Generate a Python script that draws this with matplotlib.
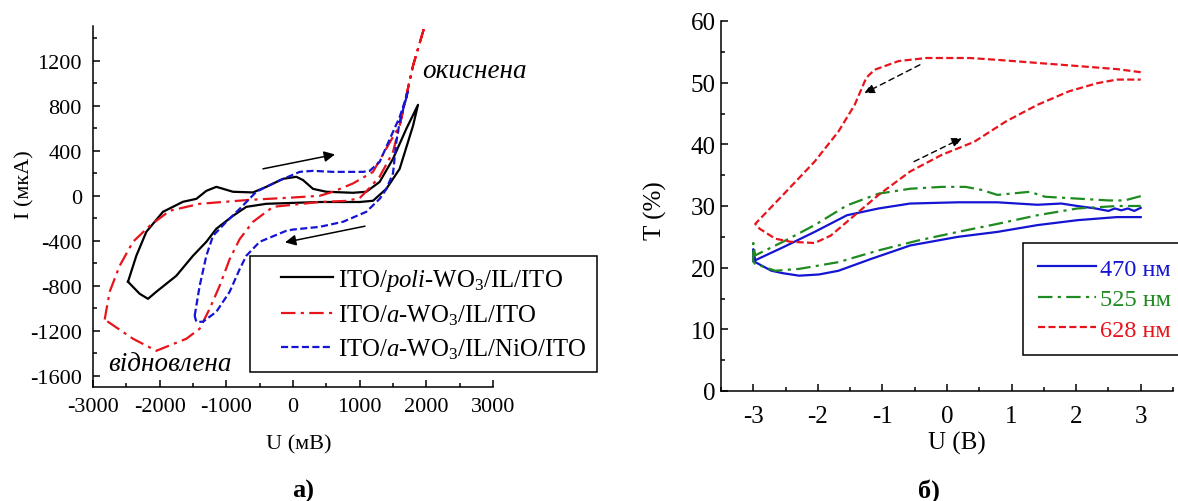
import numpy as np
import matplotlib
matplotlib.use("Agg")
import matplotlib.pyplot as plt
from matplotlib.ticker import MultipleLocator
from matplotlib.legend_handler import HandlerLine2D

plt.rcParams['font.family'] = ['Liberation Serif', 'DejaVu Serif']
plt.rcParams['mathtext.fontset'] = 'custom'
plt.rcParams['mathtext.rm'] = 'Liberation Serif'
plt.rcParams['mathtext.it'] = 'Liberation Serif:italic'
plt.rcParams['mathtext.bf'] = 'Liberation Serif:bold'
plt.rcParams['axes.unicode_minus'] = False

# ---- panel a): cyclic voltammograms, U (mV) vs I (uA)
poli_u = [-2475, -2350, -2200, -1950, -1650, -1450, -1300, -1150, -900, -600, -400, -150,
          50, 150, 300, 500, 900, 1100, 1300, 1500, 1700, 1875,
          1800, 1600, 1400, 1200, 1000, 400, -400, -700, -900, -1150, -1300, -1500,
          -1750, -2050, -2175, -2300, -2475]
poli_i = [-764, -533, -320, -142, -53, -27, 44, 80, 36, 30, 80, 151,
          169, 140, 62, 36, 27, 36, 124, 329, 596, 809,
          622, 240, 62, -44, -55, -55, -71, -98, -178, -293, -409, -533,
          -711, -853, -916, -871, -764]

a_u = [-2825, -2750, -2600, -2400, -2150, -1850, -1400, -650, 0, 400, 600, 900, 1200,
       1500, 1600, 1700, 1800, 1990,
       1800, 1700, 1600, 1500, 1300, 1100, 1000, 800, 400, -300, -600, -800, -950,
       -1100, -1250, -1400, -1600, -2050, -2400, -2825]
a_i = [-1100, -853, -622, -409, -267, -133, -71, -36, -15, 0, 36, 110, 213,
       524, 625, 890, 1156, 1540,
       1156, 890, 625, 390, 170, 40, -20, -45, -55, -98, -231, -385, -563,
       -800, -1004, -1182, -1271, -1378, -1271, -1100]

nio_u = [-1475, -1400, -1300, -1200, -1000, -800, -550, -250, 100, 300, 600, 1050,
         1150, 1300, 1500, 1600, 1725,
         1600, 1550, 1500, 1400, 1300, 1100, 750, 400, 0, -100, -500, -700, -800,
         -950, -1150, -1350, -1450, -1475]
nio_i = [-1067, -800, -533, -356, -231, -116, 36, 124, 213, 222, 213, 213,
         222, 302, 569, 700, 924,
         658, 480, 200, 60, -27, -142, -231, -276, -300, -311, -409, -533, -652,
         -853, -1031, -1120, -1120, -1067]

arrows_a = [((-450, 240), (630, 368)), ((1080, -270), (-120, -414))]

# ---- panel б): transmittance vs U (V)
u470 = [3.0, 2.9, 2.8, 2.7, 2.6, 2.5, 2.3, 2.02, 1.77, 1.4, 0.78, 0.17, -0.57, -1.06,
        -1.55, -2.05, -2.54, -2.97, -3.0, -3.0,
        -2.97, -2.72, -2.54, -2.29, -1.98, -1.68, -1.18, -0.57, 0.17, 0.78, 1.4,
        2.02, 2.63, 3.0]
t470 = [29.7, 29.2, 29.6, 29.3, 29.6, 29.2, 29.6, 30.0, 30.4, 30.2, 30.6, 30.6, 30.4, 29.6,
        28.5, 25.8, 23.3, 21.2, 23.0, 21.0,
        20.9, 19.5, 19.1, 18.7, 18.9, 19.5, 21.4, 23.6, 25.0, 25.8, 26.9,
        27.7, 28.2, 28.2]

u525 = [3.0, 2.75, 2.5, 2.02, 1.52, 1.28, 0.78, 0.54, 0.29, -0.08, -0.57, -1.06,
        -1.55, -2.05, -2.54, -2.97, -3.0, -3.0,
        -2.97, -2.66, -2.29, -1.68, -1.06, -0.45, 0.17, 0.78, 1.4, 2.02, 2.63, 3.0]
t525 = [31.6, 30.9, 30.9, 31.2, 31.5, 32.3, 31.8, 32.6, 33.1, 33.1, 32.8, 32.0,
        30.1, 26.9, 24.2, 22.0, 24.0, 21.0,
        20.6, 19.5, 19.8, 20.9, 22.8, 24.4, 25.8, 27.1, 28.5, 29.6, 30.0, 30.0]

u628 = [3.0, 2.63, 2.02, 1.4, 0.78, 0.35, -0.32, -0.75, -1.12, -1.25, -1.43, -1.68,
        -2.05, -2.54, -2.97,
        -2.9, -2.66, -2.42, -2.05, -1.8, -1.43, -1.06, -0.57, -0.08, 0.42, 0.91,
        1.4, 1.89, 2.32, 2.63, 3.0]
t628 = [51.7, 52.2, 52.7, 53.2, 53.7, 54.0, 54.0, 53.5, 52.1, 50.8, 46.4, 42.1,
        37.2, 31.8, 27.1,
        26.3, 24.7, 24.2, 24.0, 25.2, 28.5, 31.8, 35.6, 38.3, 40.4, 43.7,
        46.4, 48.6, 49.9, 50.5, 50.5]

arrows_b = [((-0.42, 52.9), (-1.28, 48.3)), ((-0.51, 37.2), (0.23, 41.0))]

RED = '#e8141c'
BLUE = '#1414d2'
GREEN = '#1f8a1f'


# legend line that starts a bit to the right inside its handle box
class ShiftedLine(HandlerLine2D):
    def __init__(self, shift, **kw):
        super().__init__(**kw)
        self.shift = shift

    def create_artists(self, legend, orig_handle, xdescent, ydescent, width, height,
                       fontsize, trans):
        s = self.shift * fontsize
        return super().create_artists(legend, orig_handle, xdescent - s, ydescent,
                                      width - s, height, fontsize, trans)


fig = plt.figure(figsize=(11.78, 5.02), dpi=100)


def style_axes(ax, size):
    for s in ['top', 'right']:
        ax.spines[s].set_visible(False)
    for s in ['left', 'bottom']:
        ax.spines[s].set_linewidth(1.1)
    ax.tick_params(which='major', direction='in', length=5, width=1.1, labelsize=size)
    ax.tick_params(which='minor', direction='in', length=3, width=1.1)


# panel a)
ax1 = fig.add_axes([93 / 1178, 1 - 388 / 502, 400 / 1178, 361 / 502])
l1, = ax1.plot(poli_u, poli_i, color='k', lw=1.6, label=r'ITO/$\it{poli}$-WO$_3$/IL/ITO')
l2, = ax1.plot(a_u, a_i, color=RED, lw=1.6, ls=(0, (6.5, 2.4, 1.4, 2.4)),
               label=r'ITO/$\it{a}$-WO$_3$/IL/ITO')
l3, = ax1.plot(nio_u, nio_i, color=BLUE, lw=1.6, ls=(0, (3.2, 1.5)),
               label=r'ITO/$\it{a}$-WO$_3$/IL/NiO/ITO')
ax1.set_xlim(-3000, 3000)
ax1.set_ylim(-1700, 1510)
ax1.xaxis.set_major_locator(MultipleLocator(1000))
ax1.xaxis.set_minor_locator(MultipleLocator(500))
ax1.yaxis.set_major_locator(MultipleLocator(400))
ax1.yaxis.set_minor_locator(MultipleLocator(200))
style_axes(ax1, 16)
ax1.tick_params(axis='y', pad=8)
ax1.tick_params(axis='x', pad=7)
ax1.set_xlabel('U (мВ)', fontsize=16, va='center')
ax1.xaxis.set_label_coords(0.515, -0.158)
ax1.set_ylabel('I (мкА)', fontsize=16, va='center')
ax1.yaxis.set_label_coords(-0.17, 0.562)

for (start, end) in arrows_a:
    ax1.annotate('', xy=end, xytext=start,
                 arrowprops=dict(arrowstyle='-|>', color='k', lw=1.1, mutation_scale=16,
                                 shrinkA=0, shrinkB=0))

ax1.text(1935, 1111, 'окиснена', fontsize=19.5, style='italic', va='center',
         ha='left', clip_on=False, family='Liberation Serif')
ax1.text(-2770, -1545, 'відновлена', fontsize=19.5, style='italic', va='baseline',
         ha='left', family='Liberation Serif')

leg1 = ax1.legend(loc='upper left', bbox_to_anchor=(250 / 1178, 1 - 257 / 502),
                  bbox_transform=fig.transFigure, fontsize=17.8, frameon=True,
                  fancybox=False, framealpha=1, handlelength=2.9, handletextpad=0.2,
                  borderpad=0.45, labelspacing=0.38, borderaxespad=0,
                  handler_map={l1: ShiftedLine(0.8), l2: ShiftedLine(0.8),
                               l3: ShiftedLine(0.8)})
leg1.get_frame().set_edgecolor('k')
leg1.get_frame().set_linewidth(1.1)

fig.text(303 / 1178, 1 - 491 / 502, 'а)', fontsize=19, fontweight='bold',
         ha='center', va='center')

# panel б)
ax2 = fig.add_axes([721 / 1178, 1 - 392 / 502, 452 / 1178, 370 / 502])
ax2.plot(u470, t470, color=BLUE, lw=1.6, label='470 нм')
ax2.plot(u525, t525, color=GREEN, lw=1.6, ls=(0, (6.5, 2.4, 1.4, 2.4)), label='525 нм')
ax2.plot(u628, t628, color=RED, lw=1.6, ls=(0, (3.2, 1.5)), label='628 нм')
ax2.set_xlim(-3.5, 3.5)
ax2.set_ylim(0, 60)
ax2.xaxis.set_major_locator(MultipleLocator(1))
ax2.xaxis.set_minor_locator(MultipleLocator(0.5))
ax2.yaxis.set_major_locator(MultipleLocator(10))
ax2.yaxis.set_minor_locator(MultipleLocator(5))
style_axes(ax2, 18)
ax2.tick_params(axis='y', pad=4)
ax2.tick_params(axis='x', pad=10)
ax2.set_xlabel('U (B)', fontsize=18, va='center')
ax2.xaxis.set_label_coords(0.522, -0.138)
ax2.set_ylabel('T (%)', fontsize=18, va='center')
ax2.yaxis.set_label_coords(-0.146, 0.489)

for (start, end) in arrows_b:
    ax2.annotate('', xy=end, xytext=start,
                 arrowprops=dict(arrowstyle='-|>', color='k', lw=1.0, ls=(0, (4, 3)),
                                 mutation_scale=15, shrinkA=0, shrinkB=0))

leg2 = ax2.legend(loc='upper left', bbox_to_anchor=(1023 / 1178, 1 - 244 / 502),
                  bbox_transform=fig.transFigure, fontsize=17.5, frameon=True,
                  fancybox=False, framealpha=1, handlelength=2.4, handletextpad=0.15,
                  borderpad=0.6, labelspacing=0.35, borderaxespad=0)
leg2.get_frame().set_edgecolor('k')
leg2.get_frame().set_linewidth(1.1)
for txt, c in zip(leg2.get_texts(), [BLUE, GREEN, RED]):
    txt.set_color(c)

fig.text(929 / 1178, 1 - 491 / 502, 'б)', fontsize=19, fontweight='bold',
         ha='center', va='center')

fig.savefig('out.png', dpi=100)
